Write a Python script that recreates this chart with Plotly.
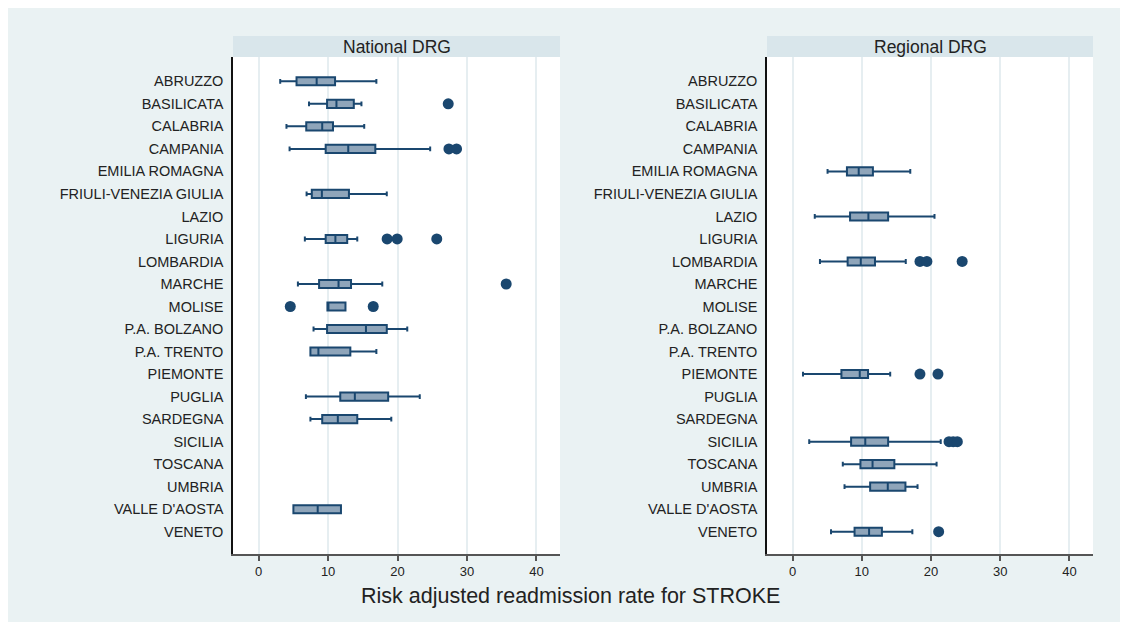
import plotly.graph_objects as go

W, H = 1120, 614

regions = ["ABRUZZO", "BASILICATA", "CALABRIA", "CAMPANIA", "EMILIA ROMAGNA",
           "FRIULI-VENEZIA GIULIA", "LAZIO", "LIGURIA", "LOMBARDIA", "MARCHE",
           "MOLISE", "P.A. BOLZANO", "P.A. TRENTO", "PIEMONTE", "PUGLIA",
           "SARDEGNA", "SICILIA", "TOSCANA", "UMBRIA", "VALLE D'AOSTA", "VENETO"]

# National DRG panel
nat_regions = ["ABRUZZO", "BASILICATA", "CALABRIA", "CAMPANIA", "FRIULI-VENEZIA GIULIA",
               "LIGURIA", "MARCHE", "MOLISE", "P.A. BOLZANO", "P.A. TRENTO",
               "PUGLIA", "SARDEGNA", "VALLE D'AOSTA"]
nat_lower = [3.1, 7.25, 4.0, 4.45, 6.9, 6.65, 5.65, 9.9, 7.9, 7.45, 6.8, 7.45, 5.0]
nat_q1 = [5.45, 9.85, 6.85, 9.65, 7.65, 9.65, 8.7, 9.9, 9.85, 7.45, 11.75, 9.15, 5.0]
nat_median = [8.35, 11.2, 9.15, 12.9, 9.1, 11.05, 11.5, 9.9, 15.45, 8.6, 13.85, 11.4, 8.5]
nat_q3 = [11.0, 13.7, 10.7, 16.8, 13.0, 12.75, 13.3, 12.5, 18.45, 13.2, 18.65, 14.2, 11.85]
nat_upper = [16.95, 14.8, 15.2, 24.7, 18.45, 14.2, 17.8, 12.5, 21.4, 16.95, 23.2, 19.1, 11.85]
nat_out_region = ["BASILICATA", "CAMPANIA", "CAMPANIA", "LIGURIA", "LIGURIA", "LIGURIA",
                  "MARCHE", "MOLISE", "MOLISE"]
nat_out_value = [27.3, 27.4, 28.5, 18.5, 19.95, 25.65, 35.65, 4.55, 16.5]

# Regional DRG panel
reg_regions = ["EMILIA ROMAGNA", "LAZIO", "LOMBARDIA", "PIEMONTE", "SICILIA",
               "TOSCANA", "UMBRIA", "VENETO"]
reg_lower = [5.05, 3.2, 3.95, 1.5, 2.4, 7.25, 7.5, 5.55]
reg_q1 = [7.85, 8.3, 7.95, 7.05, 8.45, 9.8, 11.2, 8.95]
reg_median = [9.55, 10.95, 9.85, 9.7, 10.5, 11.55, 13.75, 11.05]
reg_q3 = [11.6, 13.8, 11.9, 10.9, 13.8, 14.7, 16.3, 12.9]
reg_upper = [17.0, 20.5, 16.35, 14.1, 21.4, 20.8, 18.05, 17.3]
reg_out_region = ["LOMBARDIA", "LOMBARDIA", "LOMBARDIA", "PIEMONTE", "PIEMONTE",
                  "SICILIA", "SICILIA", "SICILIA", "VENETO"]
reg_out_value = [18.4, 19.4, 24.5, 18.4, 21.0, 22.6, 23.2, 23.8, 21.1]

panel_titles = ["National DRG", "Regional DRG"]
x_ticks = [0, 10, 20, 30, 40]
x_title = "Risk adjusted readmission rate for STROKE"

NAVY = "#1a476f"
FILL = "#8fa5ba"
BG = "#eaf2f3"
STRIP = "#d9e6eb"
FONT = "Liberation Sans, Arial, sans-serif"

fig = go.Figure()

def add_panel(ax, reg, lo, q1, med, q3, up, out_r, out_v):
    xa, ya = ("x", "y") if ax == 1 else ("x2", "y2")
    fig.add_trace(go.Box(
        orientation="h", y=reg, q1=q1, median=med, q3=q3,
        lowerfence=lo, upperfence=up, boxpoints=False,
        xaxis=xa, yaxis=ya, width=0.36, whiskerwidth=0.6,
        fillcolor=FILL, line=dict(color=NAVY, width=2),
        showlegend=False, hoverinfo="skip"))
    fig.add_trace(go.Scatter(
        x=out_v, y=out_r, mode="markers", xaxis=xa, yaxis=ya,
        marker=dict(color=NAVY, size=11, line=dict(width=0)),
        showlegend=False, hoverinfo="skip"))

add_panel(1, nat_regions, nat_lower, nat_q1, nat_median, nat_q3, nat_upper,
          nat_out_region, nat_out_value)
add_panel(2, reg_regions, reg_lower, reg_q1, reg_median, reg_q3, reg_upper,
          reg_out_region, reg_out_value)

OFF = 8  # page offset of the figure inside the browser window

def px_x(v):
    return (v - OFF) / W

def px_y(v):
    return 1 - (v - OFF) / H

plot_top, plot_bot = 57, 554
dom_left = [px_x(233), px_x(560)]
dom_right = [px_x(767), px_x(1093)]
dom_y = [px_y(plot_bot), px_y(plot_top)]

xcommon = dict(range=[-3.7, 43.4], tickvals=x_ticks, ticks="outside", ticklen=5,
               tickwidth=1.5, tickcolor="#555", showline=True, linecolor="#555",
               linewidth=1.5, showgrid=True, gridcolor="#e6eef1", gridwidth=2,
               zeroline=False, tickfont=dict(family=FONT, size=13, color="#222"),
               fixedrange=True)
ycommon = dict(type="category", categoryorder="array", categoryarray=regions,
               tickmode="array", tickvals=regions, ticktext=regions,
               range=[20.99, -1.08], autorange=False, showgrid=False,
               showline=True, linecolor="#111", linewidth=1.5, ticks="",
               ticklabelstandoff=5, zeroline=False,
               tickfont=dict(family=FONT, size=14.5, color="#222"), fixedrange=True)

shapes = []
annotations = []
for dom, title in zip([dom_left, dom_right], panel_titles):
    shapes.append(dict(type="rect", xref="paper", yref="paper", x0=dom[0], x1=dom[1],
                       y0=px_y(plot_top), y1=px_y(36), fillcolor=STRIP,
                       line=dict(width=0), layer="above"))
    annotations.append(dict(text=title, xref="paper", yref="paper",
                            x=(dom[0] + dom[1]) / 2, y=px_y(46.5), showarrow=False,
                            xanchor="center", yanchor="middle",
                            font=dict(family=FONT, size=17.5, color="#222")))
annotations.append(dict(text=x_title, xref="paper", yref="paper", x=px_x(570),
                        y=px_y(596), showarrow=False, xanchor="center",
                        yanchor="middle", font=dict(family=FONT, size=21.5, color="#222")))

fig.update_layout(
    width=W, height=H, margin=dict(l=0, r=0, t=0, b=0),
    paper_bgcolor=BG, plot_bgcolor="white",
    xaxis=dict(domain=dom_left, anchor="y", **xcommon),
    yaxis=dict(domain=dom_y, anchor="x", **ycommon),
    xaxis2=dict(domain=dom_right, anchor="y2", **xcommon),
    yaxis2=dict(domain=dom_y, anchor="x2", **ycommon),
    shapes=shapes, annotations=annotations, showlegend=False,
)

fig.write_html("out.html")
